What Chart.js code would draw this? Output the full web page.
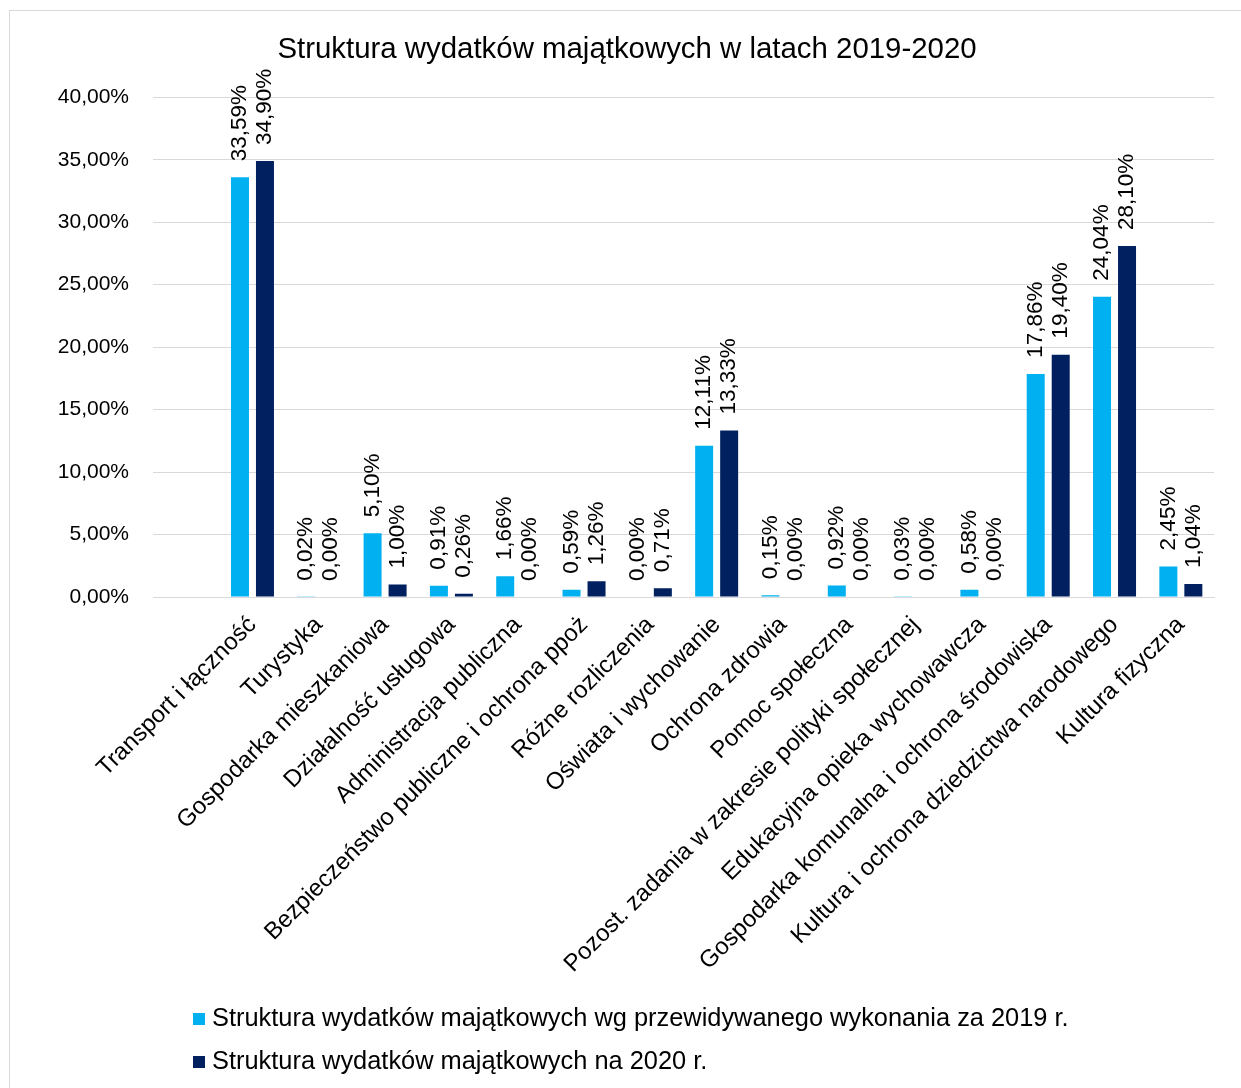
<!DOCTYPE html>
<html>
<head>
<meta charset="utf-8">
<script src="https://cdn.jsdelivr.net/npm/chart.js@4"></script>
<style>
  body { margin: 0; background: #fff; }
  #wrap { position: relative; width: 1241px; height: 1088px; overflow: hidden; }
  #frame { position: absolute; left: 9px; top: 10px; width: 1240px; height: 1100px; border: 1px solid #d9d9d9; box-sizing: border-box; }
  canvas { position: absolute; left: 0; top: 0; }
</style>
</head>
<body>
<div id="wrap">
  <div id="frame"></div>
  <canvas id="chart" width="1241" height="1088"></canvas>
</div>
<script>
// first slot is empty in the source sheet
var categories = ['', 'Transport i łączność', 'Turystyka', 'Gospodarka mieszkaniowa', 'Działalność usługowa',
  'Administracja publiczna', 'Bezpieczeństwo publiczne i ochrona ppoż', 'Różne rozliczenia',
  'Oświata i wychowanie', 'Ochrona zdrowia', 'Pomoc społeczna',
  'Pozost. zadania w zakresie polityki społecznej', 'Edukacyjna opieka wychowawcza',
  'Gospodarka komunalna i ochrona środowiska', 'Kultura i ochrona dziedzictwa narodowego', 'Kultura fizyczna'];

var wyk2019 = [null, 33.59, 0.02, 5.10, 0.91, 1.66, 0.59, 0.00, 12.11, 0.15, 0.92, 0.03, 0.58, 17.86, 24.04, 2.45];
var plan2020 = [null, 34.90, 0.00, 1.00, 0.26, 0.00, 1.26, 0.71, 13.33, 0.00, 0.00, 0.00, 0.00, 19.40, 28.10, 1.04];

var seriesNames = ['Struktura wydatków majątkowych wg przewidywanego wykonania za 2019 r.',
  'Struktura wydatków majątkowych na 2020 r.'];

var yMin = 0, yMax = 40, yStep = 5;

var FONT = "'Liberation Sans', Arial, sans-serif";

function pl(v) {
  return v.toFixed(2).replace('.', ',') + '%';
}

// rotated value labels above the bars
var valueLabels = {
  id: 'valueLabels',
  afterDatasetsDraw: function (chart) {
    var ctx = chart.ctx;
    ctx.save();
    ctx.font = '22.5px ' + FONT;
    ctx.fillStyle = '#000';
    chart.data.datasets.forEach(function (ds, i) {
      var meta = chart.getDatasetMeta(i);
      meta.data.forEach(function (bar, j) {
        var v = ds.data[j];
        if (v == null) return;
        ctx.save();
        ctx.translate(bar.x, bar.y - 16);
        ctx.rotate(-Math.PI / 2);
        ctx.textAlign = 'left';
        ctx.textBaseline = 'middle';
        ctx.fillText(pl(v), 0, 0);
        ctx.restore();
      });
    });
    ctx.restore();
  }
};

// legend stacked in two rows, left aligned
var stackedLegend = {
  id: 'stackedLegend',
  afterDraw: function (chart) {
    var ctx = chart.ctx;
    var base = chart.chartArea.bottom;
    ctx.save();
    ctx.font = '25.4px ' + FONT;
    ctx.textBaseline = 'middle';
    ctx.textAlign = 'left';
    chart.data.datasets.forEach(function (ds, i) {
      var y = base + 422 + i * 43;
      ctx.fillStyle = ds.backgroundColor;
      ctx.fillRect(193, y - 6, 12, 12);
      ctx.fillStyle = '#000';
      ctx.fillText(ds.label, 212, y);
    });
    ctx.restore();
  }
};

var chartConfig = {
  type: 'bar',
  data: {
    labels: categories,
    datasets: [{
      label: seriesNames[0],
      data: wyk2019,
      backgroundColor: '#00B0F0',
      categoryPercentage: 0.754,
      barPercentage: 0.72
    }, {
      label: seriesNames[1],
      data: plan2020,
      backgroundColor: '#002060',
      categoryPercentage: 0.754,
      barPercentage: 0.72
    }]
  },
  options: {
    responsive: false,
    animation: false,
    layout: { padding: { left: 40, right: 27, top: 0, bottom: 0 } },
    plugins: {
      legend: { display: false },
      tooltip: { enabled: false },
      title: {
        display: true,
        text: 'Struktura wydatków majątkowych w latach 2019-2020',
        color: '#000',
        font: { family: FONT, size: 29.4, weight: 'normal' },
        padding: { top: 32, bottom: 30 }
      }
    },
    scales: {
      x: {
        grid: { display: false },
        border: { color: '#d9d9d9' },
        ticks: {
          color: '#000',
          font: { family: FONT, size: 24 },
          minRotation: 45,
          maxRotation: 45,
          autoSkip: false,
          padding: 6
        },
        afterFit: function (s) { s.height = 491; }
      },
      y: {
        min: yMin,
        max: yMax,
        grid: { color: '#d9d9d9', drawTicks: false },
        border: { display: false },
        ticks: {
          stepSize: yStep,
          color: '#000',
          padding: 24,
          font: { family: FONT, size: 21 },
          callback: function (v) { return pl(v); }
        },
        afterFit: function (s) { s.width = 113; }
      }
    }
  },
  plugins: [valueLabels, stackedLegend]
};

new Chart(document.getElementById('chart'), chartConfig);
</script>
</body>
</html>
